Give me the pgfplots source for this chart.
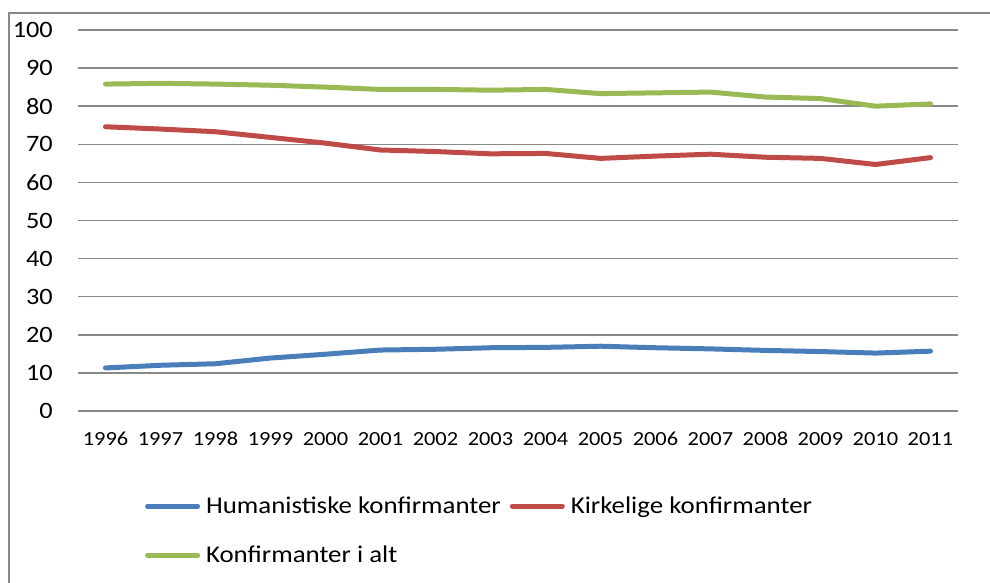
\documentclass[border=0pt]{standalone}
\usepackage{pgfplots}
\pgfplotsset{compat=1.18}
\usepackage{fontspec}
\setmainfont{Carlito}[FakeStretch=1.12]
\definecolor{cblue}{HTML}{4A7EBB}
\definecolor{cred}{HTML}{BE4B48}
\definecolor{cgreen}{HTML}{98B954}
\definecolor{cgrid}{HTML}{898989}
\pgfplotstableread{
year hum kirk alt
1996 11.3 74.6 85.8
1997 12.0 74.0 86.0
1998 12.4 73.3 85.8
1999 13.9 71.8 85.5
2000 14.9 70.3 85.0
2001 16.0 68.5 84.4
2002 16.2 68.1 84.4
2003 16.6 67.5 84.2
2004 16.7 67.6 84.4
2005 17.0 66.3 83.3
2006 16.6 66.9 83.5
2007 16.3 67.4 83.7
2008 15.9 66.6 82.4
2009 15.6 66.3 82.0
2010 15.2 64.7 80.0
2011 15.7 66.5 80.6
}\datatable
\begin{document}
\begin{tikzpicture}[x=1bp,y=1bp]
\useasboundingbox (0,0) rectangle (990,583);
\draw[cgrid, line width=1.5bp] (9,-5) -- (9,570) -- (995,570);
\begin{axis}[
  at={(78bp,172bp)}, anchor=south west,
  width=880bp, height=381bp, scale only axis,
  xmin=1995.5, xmax=2011.5, ymin=0, ymax=100,
  axis line style={draw=none},
  xtick={1996,...,2011}, ytick={0,10,...,100},
  ymajorgrids, grid style={cgrid, line width=1.5bp},
  major tick length=0pt,
  /pgf/number format/assume math mode=true,
  /pgf/number format/1000 sep={},
  xticklabel style={font=\fontsize{20bp}{24bp}\selectfont, inner sep=0pt, anchor=north, yshift=-21bp},
  yticklabel style={font=\fontsize{23.5bp}{28bp}\selectfont, inner sep=0pt, anchor=east, xshift=-25bp},
  every axis plot/.append style={line width=5bp, line join=round, line cap=round},
  legend columns=2, legend cell align=left,
  legend style={at={(0.076,-0.22)}, anchor=north west, draw=none, fill=none,
    font=\fontsize{24bp}{28bp}\selectfont, row sep=27bp, inner sep=0pt,
    /tikz/every odd column/.style={column sep=4bp},
    /tikz/every even column/.style={column sep=7bp}},
  legend image code/.code={\draw[#1, line cap=round] (0bp,0bp) -- (50bp,0bp);},
]
\addplot[cblue] table[x=year, y=hum] {\datatable};
\addlegendentry{Humanistiske konfirmanter}
\addplot[cred] table[x=year, y=kirk] {\datatable};
\addlegendentry{Kirkelige konfirmanter}
\addplot[cgreen] table[x=year, y=alt] {\datatable};
\addlegendentry{Konfirmanter i alt}
\end{axis}
\end{tikzpicture}
\end{document}
